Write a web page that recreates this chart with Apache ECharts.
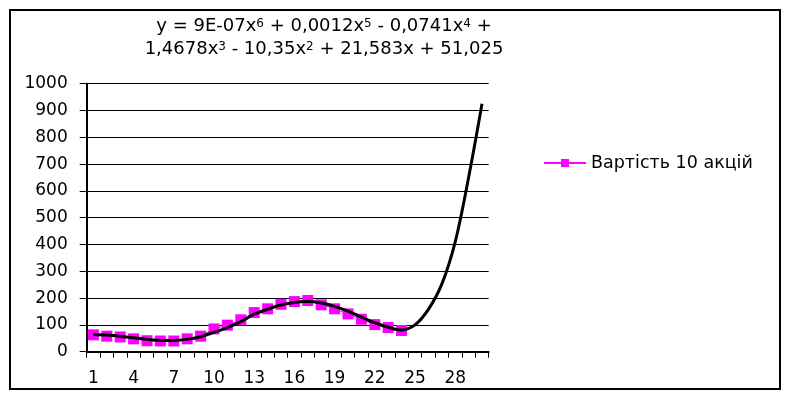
<!DOCTYPE html>
<html>
<head>
<meta charset="utf-8">
<script src="https://cdn.jsdelivr.net/npm/echarts@6/dist/echarts.min.js"></script>
<style>
html,body{margin:0;padding:0;background:#fff;}
#chart{width:789px;height:399px;}
</style>
</head>
<body>
<div id="chart"></div>
<script>
// Categories (periods)
const categories = ['1','2','3','4','5','6','7','8','9','10','11','12','13','14','15','16','17','18','19','20','21','22','23','24','25','26','27','28','29','30'];
// Observed values: "Вартість 10 акцій" (periods 1..24)
const stockValues = [63, 58, 55, 48, 41, 40, 40, 48, 58, 85, 99, 119, 146, 160, 177, 187, 191, 175, 160, 141, 121, 101, 90, 79];
// Polynomial trend line (periods 1..30)
const trendValues = [64, 62, 58, 52, 46, 42, 42, 46, 56, 72, 90, 112, 140, 158, 174, 184, 187, 182, 169, 151, 129, 108, 91, 81, 100, 158, 252, 410, 650, 925];
const seriesName = 'Вартість 10 акцій';
const yTicks = [0, 100, 200, 300, 400, 500, 600, 700, 800, 900, 1000];

const FONT = '"DejaVu Sans", Verdana, sans-serif';
const chart = echarts.init(document.getElementById('chart'), null, {renderer: 'canvas'});

chart.setOption({
  animation: false,
  backgroundColor: '#ffffff',
  title: {
    left: 324,
    top: 15,
    padding: 0,
    textAlign: 'center',
    text: '{n|y = 9E-07x}{s|6}{n| + 0,0012x}{s|5}{n| - 0,0741x}{s|4}{n| +}\n{n|1,4678x}{s|3}{n| - 10,35x}{s|2}{n| + 21,583x + 51,025}',
    textStyle: {
      fontFamily: FONT,
      fontSize: 18,
      fontWeight: 'normal',
      color: '#000',
      rich: {
        n: {fontFamily: FONT, fontSize: 18, lineHeight: 23, color: '#000', verticalAlign: 'middle'},
        s: {fontFamily: FONT, fontSize: 12, lineHeight: 23, color: '#000', verticalAlign: 'middle', padding: [0, 0, 6, 0]}
      }
    }
  },
  legend: {
    data: [seriesName],
    left: 543,
    top: 154,
    padding: 0,
    itemWidth: 42,
    itemHeight: 10,
    textStyle: {fontFamily: FONT, fontSize: 17.5, color: '#000'}
  },
  grid: {
    left: 86.7,
    right: 300.3,
    top: 83.7,
    bottom: 47.3,
    containLabel: false
  },
  xAxis: {
    type: 'category',
    data: categories,
    boundaryGap: true,
    axisLine: {lineStyle: {color: '#000', width: 2}},
    axisTick: {show: true, interval: 0, inside: false, length: 6, lineStyle: {color: '#000', width: 1}},
    axisLabel: {interval: 2, margin: 18, fontFamily: FONT, fontSize: 17, color: '#000'},
    splitLine: {show: false}
  },
  yAxis: {
    type: 'value',
    min: yTicks[0],
    max: yTicks[yTicks.length - 1],
    interval: 100,
    axisLine: {show: true, lineStyle: {color: '#000', width: 2}},
    axisTick: {show: true, inside: false, length: 7, lineStyle: {color: '#000', width: 1}},
    axisLabel: {margin: 19, fontFamily: FONT, fontSize: 17, color: '#000', formatter: function (v) { return String(v); }},
    splitLine: {show: true, lineStyle: {color: '#000', width: 1}}
  },
  series: [
    {
      name: seriesName,
      type: 'line',
      data: stockValues,
      symbol: 'rect',
      symbolSize: 11,
      showAllSymbol: true,
      itemStyle: {color: '#ff00ff'},
      lineStyle: {color: '#ff00ff', width: 1},
      z: 2
    },
    {
      name: 'trend',
      type: 'line',
      data: trendValues,
      symbol: 'none',
      smooth: 0.35,
      lineStyle: {color: '#000', width: 3},
      z: 3
    }
  ],
  graphic: [
    {
      type: 'rect',
      shape: {x: 10, y: 10, width: 770, height: 379},
      style: {fill: null, stroke: '#000', lineWidth: 2},
      silent: true,
      z: 100
    }
  ]
});
</script>
</body>
</html>
